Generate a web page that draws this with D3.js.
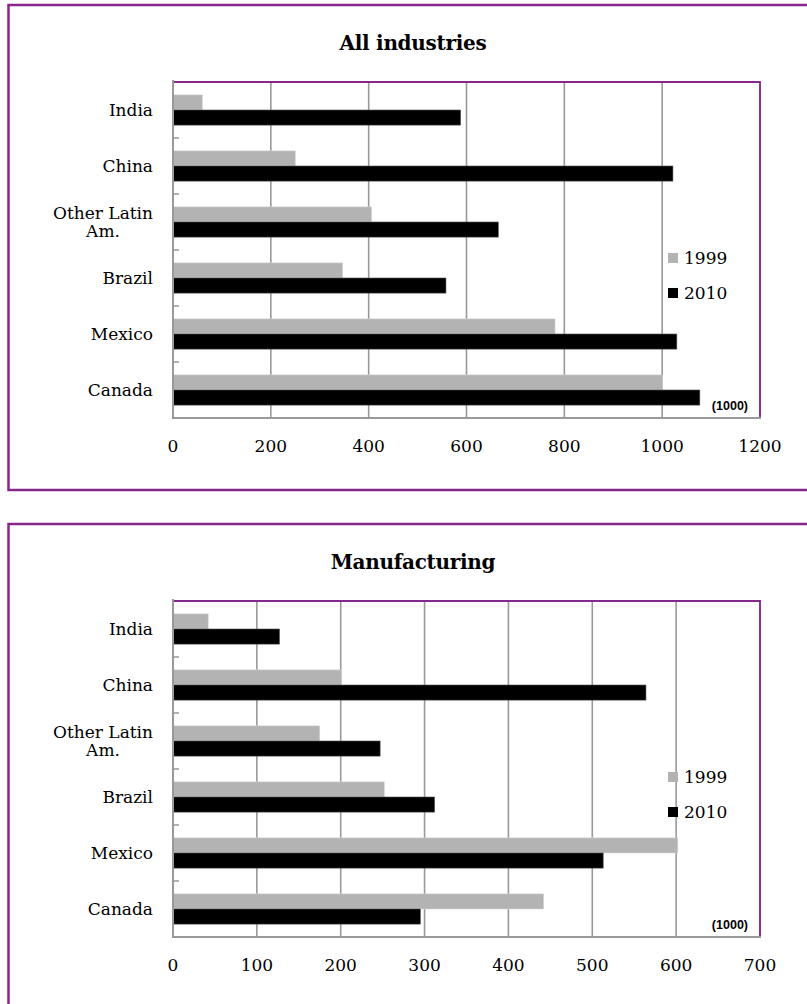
<!DOCTYPE html>
<html>
<head>
<meta charset="utf-8">
<script src="https://cdn.jsdelivr.net/npm/d3@7"></script>
<style>
  body { margin: 0; background: #fff; }
  text { font-family: "DejaVu Serif", serif; fill: #000; }
</style>
</head>
<body>
<div id="chart"></div>
<script>
// data (thousands)
var countries = ["India", "China", "Other Latin Am.", "Brazil", "Mexico", "Canada"];
var years = ["1999", "2010"];
var allInd1999 = [60, 250, 406, 347, 781, 1001];
var allInd2010 = [588, 1022, 665, 558, 1030, 1077];
var mfg1999 = [42, 201, 175, 252, 602, 442];
var mfg2010 = [127, 564, 247, 312, 513, 295];
var allTicks = [0, 200, 400, 600, 800, 1000, 1200];
var mfgTicks = [0, 100, 200, 300, 400, 500, 600, 700];

var purple = "#86288b";
var grid = "#999";
var colors = {"1999": "#b3b3b3", "2010": "#000"};

var svg = d3.select("#chart")
    .append("svg")
    .attr("width", 807)
    .attr("height", 1004);

function drawPanel(opts) {
    var g = svg.append("g");
    var top = opts.top;
    // outer frame
    g.append("rect")
        .attr("x", 8.5).attr("y", top)
        .attr("width", 812).attr("height", opts.frameH)
        .attr("fill", "none")
        .attr("stroke", purple)
        .attr("stroke-width", 2.5);

    g.append("text")
        .attr("x", 413).attr("y", top + 45)
        .attr("text-anchor", "middle")
        .style("font-size", "20px")
        .style("font-weight", "bold")
        .style("letter-spacing", "-0.3px")
        .text(opts.title);

    var plotTop = top + 77, plotBottom = plotTop + 336;
    var x = d3.scaleLinear()
        .domain([0, opts.ticks[opts.ticks.length - 1]])
        .range([173, 760]);
    var y = d3.scaleBand()
        .domain(countries)
        .range([plotTop, plotBottom])
        .paddingInner(0.46)
        .paddingOuter(0.23);
    var ySub = d3.scaleBand()
        .domain(years)
        .range([0, y.bandwidth()]);

    // gridlines
    g.selectAll(".grid")
        .data(opts.ticks.slice(1))
        .enter().append("line")
        .attr("x1", d => x(d)).attr("x2", d => x(d))
        .attr("y1", plotTop).attr("y2", plotBottom)
        .attr("stroke", grid)
        .attr("stroke-width", 1.6);

    // bars
    var rows = countries.map(function (c, i) {
        return [{c: c, year: "1999", v: opts.v1999[i]}, {c: c, year: "2010", v: opts.v2010[i]}];
    });
    g.selectAll(".row")
        .data(rows)
        .enter().append("g")
        .selectAll("rect")
        .data(d => d)
        .enter().append("rect")
        .attr("x", x(0))
        .attr("y", d => y(d.c) + ySub(d.year))
        .attr("width", d => x(d.v) - x(0))
        .attr("height", ySub.bandwidth())
        .attr("fill", d => colors[d.year])
        .attr("stroke", d => d.year == "1999" ? "#d6d6d6" : "#555")
        .attr("stroke-width", 0.6);

    // plot border top / right
    g.append("path")
        .attr("d", "M173," + plotTop + "H" + x.range()[1] + "V" + plotBottom)
        .attr("fill", "none")
        .attr("stroke", purple)
        .attr("stroke-width", 1.8);

    // axes
    g.append("line")
        .attr("x1", 173).attr("x2", 173)
        .attr("y1", plotTop - 2).attr("y2", plotBottom)
        .attr("stroke", grid).attr("stroke-width", 2);
    g.append("line")
        .attr("x1", 172).attr("x2", x.range()[1] + 1)
        .attr("y1", plotBottom).attr("y2", plotBottom)
        .attr("stroke", grid).attr("stroke-width", 2.2);
    g.selectAll(".ytick")
        .data(countries.slice(1))
        .enter().append("line")
        .attr("x1", 173).attr("x2", 179)
        .attr("y1", d => y(d) - y.step() * 0.23)
        .attr("y2", d => y(d) - y.step() * 0.23)
        .attr("stroke", grid).attr("stroke-width", 1.5);

    // x tick labels
    g.selectAll(".xlab")
        .data(opts.ticks)
        .enter().append("text")
        .attr("x", d => x(d))
        .attr("y", plotBottom + 34)
        .attr("text-anchor", "middle")
        .style("font-size", "17px")
        .text(d => d);

    // category labels, wrapped like the original
    countries.forEach(function (c) {
        var lines = c == "Other Latin Am." ? ["Other Latin", "Am."] : [c];
        var cy = y(c) + y.bandwidth() / 2;
        var t = g.append("text")
            .attr("text-anchor", "middle")
            .style("font-size", "17px");
        lines.forEach(function (l, i) {
            t.append("tspan").attr("y", cy + 6 + (i - (lines.length - 1) / 2) * 18).text(l);
        });
        var w = d3.max(t.selectAll("tspan").nodes(), n => n.getComputedTextLength());
        t.selectAll("tspan").attr("x", 153 - w / 2);
    });

    // unit note
    g.append("text")
        .attr("x", 748).attr("y", plotBottom - 8)
        .attr("text-anchor", "end")
        .style("font-family", "Liberation Sans, Arial, sans-serif")
        .style("font-size", "12.5px")
        .style("font-weight", "bold")
        .text("(1000)");

    // legend
    var leg = g.selectAll(".legend")
        .data(years)
        .enter().append("g")
        .attr("transform", (d, i) => "translate(668," + (plotTop + 176 + i * 35) + ")");
    leg.append("rect")
        .attr("x", 0).attr("y", -5)
        .attr("width", 10).attr("height", 10)
        .attr("fill", d => colors[d]);
    leg.append("text")
        .attr("x", 16).attr("y", 6)
        .style("font-size", "17px")
        .text(d => d);
}

drawPanel({top: 5, frameH: 485, title: "All industries", ticks: allTicks, v1999: allInd1999, v2010: allInd2010});
drawPanel({top: 524, frameH: 500, title: "Manufacturing", ticks: mfgTicks, v1999: mfg1999, v2010: mfg2010});
</script>
</body>
</html>
